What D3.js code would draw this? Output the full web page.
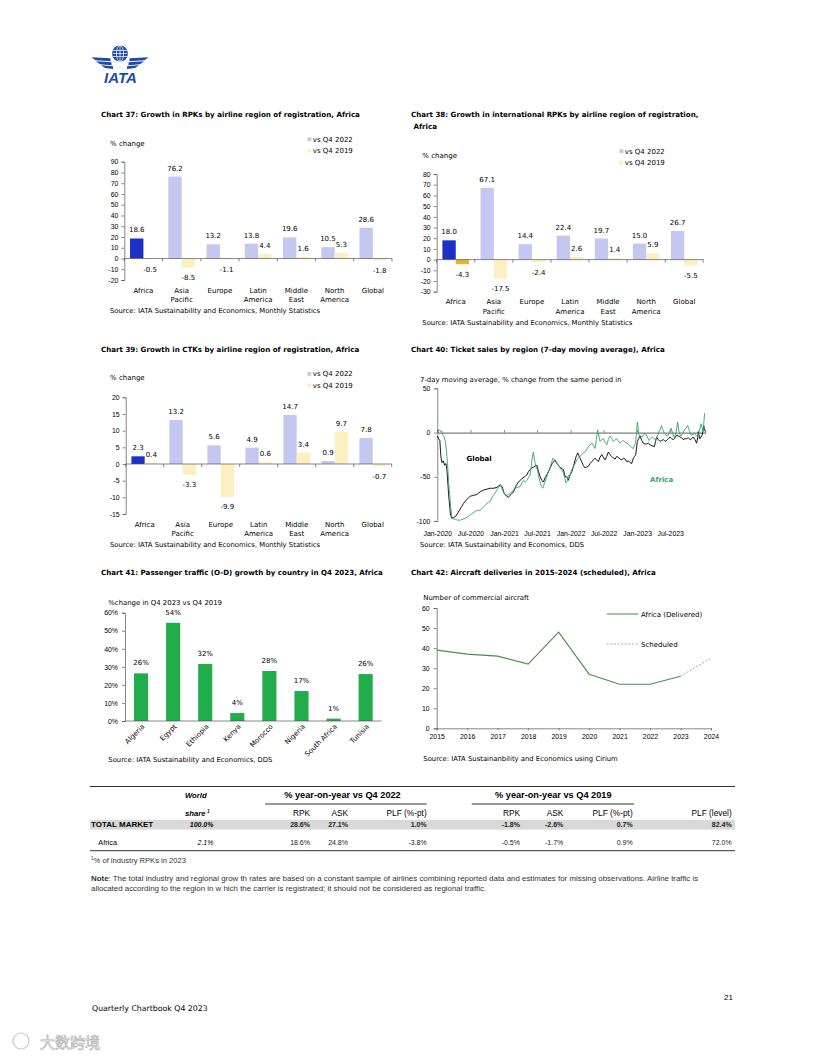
<!DOCTYPE html>
<html>
<head>
<meta charset="utf-8">
<script src="https://cdn.jsdelivr.net/npm/d3@7"></script>
<style>
html, body { margin: 0; padding: 0; background: #fff; }
svg { display: block; font-family: "DejaVu Sans", "Liberation Sans", Arial, sans-serif; }
</style>
</head>
<body>
<svg id="page" width="816" height="1056"></svg>
<script>
// ---- data ----
var regions = ["Africa", "Asia Pacific", "Europe", "Latin America", "Middle East", "North America", "Global"];
var rpkVs2022 = [18.6, 76.2, 13.2, 13.8, 19.6, 10.5, 28.6];
var rpkVs2019 = [-0.5, -8.5, -1.1, 4.4, 1.6, 5.3, -1.8];
var intlRpkVs2022 = [18.0, 67.1, 14.4, 22.4, 19.7, 15.0, 26.7];
var intlRpkVs2019 = [-4.3, -17.5, -2.4, 2.6, 1.4, 5.9, -5.5];
var ctkVs2022 = [2.3, 13.2, 5.6, 4.9, 14.7, 0.9, 7.8];
var ctkVs2019 = [0.4, -3.3, -9.9, 0.6, 3.4, 9.7, -0.7];

var countries = ["Algeria", "Egypt", "Ethiopia", "Kenya", "Morocco", "Nigeria", "South Africa", "Tunisia"];
var odGrowth = [0.264, 0.544, 0.316, 0.044, 0.277, 0.166, 0.013, 0.26];

var deliveryYears = [2015, 2016, 2017, 2018, 2019, 2020, 2021, 2022, 2023];
var delivered = [39, 37, 36, 32, 48, 27, 22, 22, 26];
var scheduledYears = [2023, 2024];
var scheduled = [26, 35];

// ticket sales: [days since 1 Jan 2020, % change]
var ticketStart = "2020-01-01";
var globalSales = [[0,-4],[7,-7],[14,-9],[20,-28],[26,-34],[33,-32],[40,-37],[47,-35],[53,-42],[62,-70],[72,-92],[80,-97],
  [90,-96],[100,-95],[115,-90],[130,-85],[144,-80],[160,-76],[181,-72],[200,-71],[217,-70],[235,-67],[254,-65],[272,-64],
  [290,-63],[308,-63],[327,-62],[345,-59],[355,-61],[367,-69],[380,-72],[390,-73],[405,-70],[418,-67],[432,-60],[445,-56],
  [464,-52],[478,-50],[491,-48],[500,-44],[509,-42],[518,-40],[527,-39],[536,-38],[546,-37],[555,-44],[564,-50],[573,-54],
  [582,-56],[591,-51],[600,-48],[610,-44],[619,-40],[630,-35],[646,-31],[655,-35],[664,-37],[678,-40],[692,-42],[701,-50],
  [710,-50],[719,-54],[728,-48],[738,-44],[747,-38],[756,-31],[763,-26],[770,-23],[780,-28],[792,-33],[800,-37],[810,-40],
  [820,-39],[829,-38],[838,-35],[847,-33],[856,-31],[865,-29],[874,-31],[883,-33],[892,-28],[902,-25],[911,-28],[920,-31],
  [929,-27],[938,-22],[947,-25],[957,-27],[966,-29],[975,-30],[984,-27],[993,-28],[1002,-30],[1011,-31],[1020,-29],[1030,-30],
  [1039,-33],[1048,-32],[1057,-34],[1066,-35],[1075,-29],[1082,-27],[1088,-25],[1094,-15],[1097,-10],[1104,-7],[1112,-4],
  [1121,-9],[1130,-12],[1139,-13],[1148,-13],[1157,-12],[1167,-14],[1178,-15],[1190,-16],[1197,-10],[1203,-5],[1212,-8],
  [1221,-10],[1230,-9],[1240,-8],[1249,-10],[1258,-9],[1267,-7],[1276,-5],[1285,-7],[1294,-8],[1303,-6],[1313,-3],[1322,-4],
  [1331,-5],[1340,-6],[1349,-8],[1358,-7],[1367,-7],[1376,-6],[1386,-8],[1395,-7],[1404,-5],[1413,-8],[1422,-12],[1428,-6],
  [1431,1],[1436,-4],[1440,-7],[1446,-5],[1452,-3],[1457,2],[1461,8],[1465,3],[1467,2]];
var africaSales = [[0,4],[6,2],[12,3],[18,1],[24,2],[31,-3],[38,-5],[44,-10],[50,-20],[56,-35],[62,-55],[67,-69],[74,-85],
  [80,-95],[90,-98],[99,-98],[110,-99],[126,-99],[140,-98],[153,-97],[167,-95],[181,-93],[195,-91],[208,-89],[222,-88],
  [235,-88],[245,-86],[254,-84],[263,-82],[272,-80],[281,-79],[290,-78],[299,-74],[308,-71],[318,-68],[327,-65],[336,-62],
  [345,-60],[354,-63],[363,-67],[372,-70],[382,-71],[391,-70],[400,-69],[413,-66],[427,-63],[441,-62],[455,-61],[464,-57],
  [473,-54],[482,-56],[491,-54],[500,-51],[509,-48],[514,-40],[518,-33],[523,-25],[527,-22],[532,-30],[537,-35],[543,-40],
  [549,-42],[556,-50],[564,-56],[572,-61],[579,-63],[588,-57],[597,-52],[606,-46],[615,-42],[625,-35],[634,-29],[643,-31],
  [652,-33],[663,-37],[674,-40],[683,-43],[692,-46],[699,-52],[706,-57],[712,-55],[719,-48],[725,-50],[732,-45],[738,-42],
  [747,-38],[756,-35],[765,-31],[774,-29],[783,-27],[792,-25],[801,-23],[810,-22],[820,-19],[829,-16],[838,-14],[847,-12],
  [856,-15],[865,-18],[872,-8],[876,-2],[880,3],[886,-4],[893,-10],[902,-8],[911,-7],[920,-11],[929,-14],[938,-8],[947,-4],
  [957,-7],[966,-10],[975,-8],[984,-7],[993,-10],[1002,-12],[1011,-10],[1020,-9],[1030,-11],[1039,-12],[1048,-13],[1057,-15],
  [1066,-17],[1075,-18],[1082,-14],[1088,-10],[1093,2],[1097,12],[1102,3],[1106,-3],[1115,-4],[1124,-5],[1133,-2],[1143,-1],
  [1152,-5],[1161,-9],[1170,-7],[1179,-5],[1188,-7],[1198,-8],[1207,-4],[1216,1],[1223,4],[1230,8],[1237,3],[1245,-1],
  [1254,-3],[1263,-4],[1272,0],[1282,5],[1291,-1],[1300,-6],[1309,0],[1314,6],[1318,12],[1323,4],[1330,-2],[1337,-4],
  [1346,-1],[1355,3],[1364,5],[1373,8],[1382,2],[1392,-3],[1401,-2],[1410,-1],[1419,-3],[1428,-5],[1437,1],[1446,10],
  [1452,5],[1457,1],[1462,12],[1466,22]];

var tableRows = ["TOTAL MARKET", "Africa"];
var worldShare = ["100.0%", "2.1%"];
var rpkYoY2022 = ["28.6%", "18.6%"];
var askYoY2022 = ["27.1%", "24.8%"];
var plfPt2022 = ["1.0%", "-3.8%"];
var rpkYoY2019 = ["-1.8%", "-0.5%"];
var askYoY2019 = ["-2.6%", "-1.7%"];
var plfPt2019 = ["0.7%", "0.9%"];
var plfLevel = ["82.4%", "72.0%"];

var svg = d3.select("#page");
var darkBlue = "#1d2fc4", lavender = "#c4c7f0", paleYellow = "#fcefc2", gold = "#e4b52a";
var green = "#22ad4c", lineGreen = "#35a66a";
var loc = d3.formatLocale({decimal: ".", thousands: ",", grouping: [3], currency: ["", ""], minus: "-"});
var f1 = loc.format(".1f"), fd = loc.format("d"), fp = loc.format(".0%");

var title = function(x, y, lines) {
	var t = svg.append("text").attr("x", x).attr("y", y)
		.attr("font-size", 7.1).attr("font-weight", "bold");
	lines.forEach(function(l, i) {
		t.append("tspan").attr("x", x).attr("dy", i ? 11.5 : 0).text(l);
	});
};

var styleAxis = function(g) {
	g.selectAll("path, line").attr("stroke", "#555").attr("stroke-width", 0.7);
	g.selectAll("text").attr("font-size", 6.9).attr("fill", "#000").attr("font-family", null);
};

// grouped bar chart for charts 37-39
var barChart = function(o) {
	var g = svg.append("g");
	var x = d3.scaleBand().domain(regions).range([o.left, o.right]);
	var y = d3.scaleLinear().domain(o.domain).range([o.bottom, o.top]);
	var bw = x.bandwidth() * 0.35;

	var data = regions.map(function(r, i) {
		return {region: r, i: i, a: o.vs2022[i], b: o.vs2019[i]};
	});

	g.append("g").attr("transform", "translate(" + o.left + ",0)")
		.call(d3.axisLeft(y).tickValues(d3.range(o.domain[0], o.domain[1] + 0.01, o.step))
			.tickSize(3).tickPadding(3).tickFormat(fd))
		.call(styleAxis);

	var bars = g.selectAll("g.cat").data(data).enter().append("g").attr("class", "cat");
	bars.append("rect")
		.attr("x", function(d) { return x(d.region) + x.bandwidth() / 2 - bw; })
		.attr("y", function(d) { return y(Math.max(0, d.a)); })
		.attr("width", bw)
		.attr("height", function(d) { return Math.abs(y(d.a) - y(0)); })
		.attr("fill", function(d) { return d.i === 0 ? darkBlue : lavender; });
	bars.append("rect")
		.attr("x", function(d) { return x(d.region) + x.bandwidth() / 2; })
		.attr("y", function(d) { return y(Math.max(0, d.b)); })
		.attr("width", bw)
		.attr("height", function(d) { return Math.abs(y(d.b) - y(0)); })
		.attr("fill", function(d) { return d.i === 0 && o.goldAfrica ? gold : paleYellow; });

	var labelY = function(v) { return v >= 0 ? y(v) - 6 : y(v) + 12.5; };
	bars.append("text")
		.attr("x", function(d) { return x(d.region) + x.bandwidth() / 2 - bw / 2; })
		.attr("y", function(d) { return labelY(d.a); })
		.attr("text-anchor", "middle").attr("font-size", 7)
		.text(function(d) { return f1(d.a); });
	bars.append("text")
		.attr("x", function(d) { return x(d.region) + x.bandwidth() / 2 + bw / 2; })
		.attr("y", function(d) { return labelY(d.b); })
		.attr("text-anchor", "middle").attr("font-size", 7)
		.text(function(d) { return f1(d.b); });

	// zero line with ticks at category edges
	g.append("line").attr("x1", o.left).attr("x2", o.right)
		.attr("y1", y(0)).attr("y2", y(0)).attr("stroke", "#555").attr("stroke-width", 0.7);
	g.selectAll("line.edge").data(regions.map(function(r) { return x(r); }).concat([o.right]))
		.enter().append("line").attr("class", "edge")
		.attr("x1", function(d) { return d; }).attr("x2", function(d) { return d; })
		.attr("y1", y(0)).attr("y2", y(0) + 3).attr("stroke", "#555").attr("stroke-width", 0.7);

	// category labels at the bottom
	var cl = g.selectAll("text.cat").data(regions).enter().append("text").attr("class", "cat")
		.attr("text-anchor", "middle").attr("font-size", 7)
		.attr("y", o.bottom + 12.5);
	cl.each(function(r) {
		var t = d3.select(this), cx = x(r) + x.bandwidth() / 2;
		r.split(" ").forEach(function(w, i) {
			t.append("tspan").attr("x", cx).attr("dy", i ? 9.5 : 0).text(w);
		});
	});

	g.append("text").attr("x", o.labelX).attr("y", o.labelY).attr("font-size", 7).text("% change");
	[["vs Q4 2022", lavender], ["vs Q4 2019", paleYellow]].forEach(function(l, i) {
		var ly = o.legendY + i * 11.5;
		g.append("rect").attr("x", o.legendX).attr("y", ly - 2).attr("width", 3.8).attr("height", 3.8).attr("fill", l[1]);
		g.append("text").attr("x", o.legendX + 5.3).attr("y", ly + 2.4).attr("font-size", 7).text(l[0]);
	});
	g.append("text").attr("x", o.labelX).attr("y", o.bottom + 33).attr("font-size", 6.85)
		.text("Source: IATA Sustainability and Economics,  Monthly Statistics");
};

// ---- logo ----
var logo = svg.append("g").attr("fill", "#1e4ca6");
logo.append("circle").attr("cx", 120).attr("cy", 53.5).attr("r", 8);
var grid = logo.append("g").attr("fill", "none").attr("stroke", "#fff").attr("stroke-width", 0.7);
grid.append("ellipse").attr("cx", 120).attr("cy", 53.5).attr("rx", 3.6).attr("ry", 8);
grid.append("line").attr("x1", 120).attr("x2", 120).attr("y1", 45.5).attr("y2", 61.5);
[50.5, 53.5, 56.5].forEach(function(yy) {
	grid.append("line").attr("x1", 112.5).attr("x2", 127.5).attr("y1", yy).attr("y2", yy);
});
[[91.5, 57.3, 110.5, 2.9], [96, 61.3, 111.5, 2.9], [101, 65.3, 113, 2.7]].forEach(function(w) {
	var p = "M" + w[0] + "," + w[1] + " L" + w[2] + "," + (w[1] + 1) + " L" + w[2] + "," + (w[1] + 1 + w[3]) +
		" L" + (w[0] + 4) + "," + (w[1] + w[3]) + "Z";
	logo.append("path").attr("d", p);
	logo.append("path").attr("d", p).attr("transform", "translate(240,0) scale(-1,1)");
});
logo.append("text").attr("x", 120.5).attr("y", 82.5).attr("text-anchor", "middle").attr("font-family", "Liberation Sans")
	.attr("font-size", 15).attr("font-weight", "bold").attr("font-style", "italic").text("IATA");

// ---- chart 37 ----
title(101, 117, ["Chart 37: Growth in RPKs by airline region of registration, Africa"]);
barChart({left: 124.3, right: 392, top: 161.7, bottom: 280, domain: [-20, 90], step: 10,
	vs2022: rpkVs2022, vs2019: rpkVs2019, labelX: 110, labelY: 145.8, legendX: 307.5, legendY: 139.3});

// ---- chart 38 ----
title(411, 117, ["Chart 38: Growth in international RPKs by airline region of registration,", " Africa"]);
barChart({left: 436.7, right: 703.3, top: 174, bottom: 291.7, domain: [-30, 80], step: 10,
	vs2022: intlRpkVs2022, vs2019: intlRpkVs2019, goldAfrica: true,
	labelX: 422.3, labelY: 157.5, legendX: 619.5, legendY: 151.2});

// ---- chart 39 ----
title(101, 352, ["Chart 39: Growth in CTKs by airline region of registration, Africa"]);
barChart({left: 125.7, right: 391.7, top: 397.3, bottom: 514, domain: [-15, 20], step: 5,
	vs2022: ctkVs2022, vs2019: ctkVs2019, labelX: 110, labelY: 380, legendX: 307.5, legendY: 374});

// ---- chart 40 ----
title(411, 352, ["Chart 40: Ticket sales by region (7-day moving average), Africa"]);
(function() {
	var g = svg.append("g");
	var t0 = d3.timeParse("%Y-%m-%d")(ticketStart);
	var x = d3.scaleTime().domain([t0, d3.timeDay.offset(t0, 1468)]).range([437.3, 705]);
	var y = d3.scaleLinear().domain([-100, 50]).range([521, 388.3]);
	var at = function(d) { return x(d3.timeDay.offset(t0, d[0])); };

	g.append("g").attr("transform", "translate(437.3,0)")
		.call(d3.axisLeft(y).tickValues([50, 0, -50, -100]).tickSize(3).tickPadding(4).tickFormat(fd))
		.call(styleAxis);

	var xa = g.append("g").attr("transform", "translate(0," + y(0) + ")")
		.call(d3.axisBottom(x).tickValues(d3.timeMonth.every(6).range(t0, new Date(2023, 7, 1)))
			.tickSize(-2.5).tickFormat(d3.timeFormat("%b-%Y")))
		.call(styleAxis);
	xa.select(".domain").attr("stroke", "#7f7f7f").attr("stroke-width", 1.3);
	xa.selectAll("text").attr("y", y(-100) - y(0) + 10);

	var line = d3.line().x(at).y(function(d) { return y(d[1]); });
	g.append("path").datum(globalSales).attr("d", line)
		.attr("fill", "none").attr("stroke", "#000").attr("stroke-width", 0.9);
	g.append("path").datum(africaSales).attr("d", line)
		.attr("fill", "none").attr("stroke", lineGreen).attr("stroke-width", 0.9);

	g.append("text").attr("x", 466.5).attr("y", 460.8).attr("font-size", 7).attr("font-weight", "bold").text("Global");
	g.append("text").attr("x", 650).attr("y", 481.8).attr("font-size", 7).attr("font-weight", "bold")
		.attr("fill", lineGreen).text("Africa");
	g.append("text").attr("x", 420).attr("y", 381.8).attr("font-size", 6.9)
		.text("7-day moving average, % change from the same period in");
	g.append("text").attr("x", 420).attr("y", 546.8).attr("font-size", 6.85)
		.text("Source: IATA Sustainability and Economics, DDS");
})();

// ---- chart 41 ----
title(101, 575, ["Chart 41: Passenger traffic (O-D) growth by country in Q4 2023, Africa"]);
(function() {
	var g = svg.append("g");
	var x = d3.scaleBand().domain(countries).range([125, 381.7]);
	var y = d3.scaleLinear().domain([0, 0.6]).range([721, 612.7]);
	var bw = x.bandwidth() * 0.44;
	var data = countries.map(function(c, i) { return {c: c, v: odGrowth[i]}; });

	g.append("g").attr("transform", "translate(125,0)")
		.call(d3.axisLeft(y).tickValues(d3.range(0, 0.61, 0.1)).tickSize(3).tickPadding(4).tickFormat(fp))
		.call(styleAxis);
	g.selectAll("rect").data(data).enter().append("rect")
		.attr("x", function(d) { return x(d.c) + (x.bandwidth() - bw) / 2; })
		.attr("y", function(d) { return y(d.v); })
		.attr("width", bw)
		.attr("height", function(d) { return y(0) - y(d.v); })
		.attr("fill", green);
	g.selectAll("text.val").data(data).enter().append("text").attr("class", "val")
		.attr("x", function(d) { return x(d.c) + x.bandwidth() / 2; })
		.attr("y", function(d) { return y(d.v) - 8; })
		.attr("text-anchor", "middle").attr("font-size", 7)
		.text(function(d) { return fp(d.v); });
	g.append("line").attr("x1", 125).attr("x2", 381.7).attr("y1", y(0)).attr("y2", y(0))
		.attr("stroke", "#555").attr("stroke-width", 0.7);
	g.selectAll("text.cat").data(countries).enter().append("text").attr("class", "cat")
		.attr("text-anchor", "end").attr("font-size", 7)
		.attr("transform", function(c) {
			return "translate(" + (x(c) + x.bandwidth() / 2 + 4) + "," + (y(0) + 6) + ") rotate(-45)";
		})
		.text(function(c) { return c; });
	g.append("text").attr("x", 108.3).attr("y", 604.8).attr("font-size", 6.9).text("%change in Q4 2023 vs Q4 2019");
	g.append("text").attr("x", 108.3).attr("y", 761.5).attr("font-size", 6.85)
		.text("Source: IATA Sustainability and Economics, DDS");
})();

// ---- chart 42 ----
title(411, 575, ["Chart 42: Aircraft deliveries in 2015-2024 (scheduled), Africa"]);
(function() {
	var g = svg.append("g");
	var x = d3.scaleLinear().domain([2015, 2024]).range([436.7, 711]);
	var y = d3.scaleLinear().domain([0, 60]).range([728.3, 608]);

	g.append("g").attr("transform", "translate(436.7,0)")
		.call(d3.axisLeft(y).tickValues(d3.range(0, 61, 10)).tickSize(3).tickPadding(4).tickFormat(fd))
		.call(styleAxis);
	g.append("g").attr("transform", "translate(0," + y(0) + ")")
		.call(d3.axisBottom(x).tickValues(d3.range(2015, 2025)).tickSize(2).tickPadding(4).tickFormat(fd))
		.call(styleAxis);

	var line = d3.line().x(function(d) { return x(d[0]); }).y(function(d) { return y(d[1]); });
	g.append("path").datum(d3.zip(deliveryYears, delivered)).attr("d", line)
		.attr("fill", "none").attr("stroke", "#4b8f4d").attr("stroke-width", 1.1);
	g.append("path").datum(d3.zip(scheduledYears, scheduled)).attr("d", line)
		.attr("fill", "none").attr("stroke", "#7fa37f").attr("stroke-width", 0.8).attr("stroke-dasharray", "2,1.6");

	g.append("line").attr("x1", 606.7).attr("x2", 638.3).attr("y1", 614).attr("y2", 614)
		.attr("stroke", "#4b8f4d").attr("stroke-width", 1.1);
	g.append("text").attr("x", 641).attr("y", 616.5).attr("font-size", 7).text("Africa (Delivered)");
	g.append("line").attr("x1", 606.7).attr("x2", 638.3).attr("y1", 644).attr("y2", 644)
		.attr("stroke", "#7fa37f").attr("stroke-width", 0.8).attr("stroke-dasharray", "2,1.6");
	g.append("text").attr("x", 641).attr("y", 646.5).attr("font-size", 7).text("Scheduled");
	g.append("text").attr("x", 423.3).attr("y", 599.8).attr("font-size", 6.9).text("Number of commercial aircraft");
	g.append("text").attr("x", 423.3).attr("y", 760.5).attr("font-size", 6.85)
		.text("Source: IATA Sustainanbility and Economics using Cirium");
})();

// ---- table ----
(function() {
	var g = svg.append("g").attr("font-size", 7).attr("font-family", "Liberation Sans, Arial, sans-serif");
	var cols = [
		{head: "RPK", vals: rpkYoY2022, x: 310},
		{head: "ASK", vals: askYoY2022, x: 348},
		{head: "PLF (%-pt)", vals: plfPt2022, x: 426.7},
		{head: "RPK", vals: rpkYoY2019, x: 520},
		{head: "ASK", vals: askYoY2019, x: 563.3},
		{head: "PLF (%-pt)", vals: plfPt2019, x: 632.7},
		{head: "PLF (level)", vals: plfLevel, x: 731.7}
	];
	var rowY = [827, 844.5];

	g.append("line").attr("x1", 90).attr("x2", 735).attr("y1", 786.5).attr("y2", 786.5).attr("stroke", "#333").attr("stroke-width", 1);
	g.append("rect").attr("x", 90).attr("y", 819.8).attr("width", 645).attr("height", 9.8).attr("fill", "#d9d9d9");
	g.append("line").attr("x1", 90).attr("x2", 735).attr("y1", 850.7).attr("y2", 850.7).attr("stroke", "#333").attr("stroke-width", 1);

	g.append("text").attr("x", 185).attr("y", 798).attr("font-size", 7.7).attr("font-weight", "bold").attr("font-style", "italic").text("World");
	var sh = g.append("text").attr("x", 185).attr("y", 816).attr("font-size", 7.7).attr("font-weight", "bold").attr("font-style", "italic");
	sh.append("tspan").text("share");
	sh.append("tspan").attr("font-size", 4.8).attr("dy", -3.2).attr("dx", 1.5).text("1");

	[["% year-on-year vs Q4 2022", 342.5, 265, 426.7], ["% year-on-year vs Q4 2019", 553.3, 471.7, 634]].forEach(function(h) {
		g.append("text").attr("x", h[1]).attr("y", 798.3).attr("text-anchor", "middle")
			.attr("font-size", 9.2).attr("font-weight", "bold").text(h[0]);
		g.append("line").attr("x1", h[2]).attr("x2", h[3]).attr("y1", 804).attr("y2", 804)
			.attr("stroke", "#333").attr("stroke-width", 1);
	});

	cols.forEach(function(c) {
		g.append("text").attr("x", c.x).attr("y", 816.3).attr("text-anchor", "end").attr("font-size", 8.3).text(c.head);
		c.vals.forEach(function(v, i) {
			g.append("text").attr("x", c.x).attr("y", rowY[i]).attr("text-anchor", "end")
				.attr("font-weight", i === 0 ? "bold" : null).attr("fill", "#222").text(v);
		});
	});
	tableRows.forEach(function(r, i) {
		g.append("text").attr("x", i === 0 ? 91 : 98.3).attr("y", rowY[i]).attr("font-size", i === 0 ? 8 : 7.3)
			.attr("font-weight", i === 0 ? "bold" : null).text(r);
		g.append("text").attr("x", 213.5).attr("y", rowY[i]).attr("text-anchor", "end")
			.attr("font-style", "italic").attr("font-weight", i === 0 ? "bold" : null).text(worldShare[i]);
	});

	var fn = g.append("text").attr("x", 91).attr("y", 862.5).attr("font-size", 7.6).attr("fill", "#333");
	fn.append("tspan").attr("font-size", 4.6).attr("dy", -2.4).text("1");
	fn.append("tspan").attr("dy", 2.4).text("% of industry RPKs in 2023");

	var n1 = g.append("text").attr("x", 91).attr("y", 880.5).attr("font-size", 7.9).attr("fill", "#333");
	n1.append("tspan").attr("font-weight", "bold").text("Note");
	n1.append("tspan").text(": The total industry and regional grow th rates are based on a constant sample of airlines combining reported data and estimates for missing observations. Airline traffic is");
	g.append("text").attr("x", 91).attr("y", 890.7).attr("font-size", 7.9).attr("fill", "#333")
		.text("allocated according to the region in w hich the carrier is registrated; it should not be considered as regional traffic.");
})();

// ---- footer ----
svg.append("text").attr("x", 733).attr("y", 999.5).attr("text-anchor", "end").attr("font-size", 8)
	.attr("font-family", "Liberation Sans").text("21");
svg.append("text").attr("x", 92).attr("y", 1011).attr("font-size", 7.8).text("Quarterly Chartbook Q4 2023");
svg.append("circle").attr("cx", 21).attr("cy", 1041).attr("r", 8).attr("fill", "none").attr("stroke", "#c8c8c8").attr("stroke-width", 1.2);
svg.append("text").attr("x", 40).attr("y", 1048).attr("font-size", 15).attr("font-family", "Noto Sans CJK SC")
	.attr("fill", "#fff").attr("stroke", "#b5b5b5").attr("stroke-width", 0.7).text("大数跨境");
</script>
</body>
</html>
